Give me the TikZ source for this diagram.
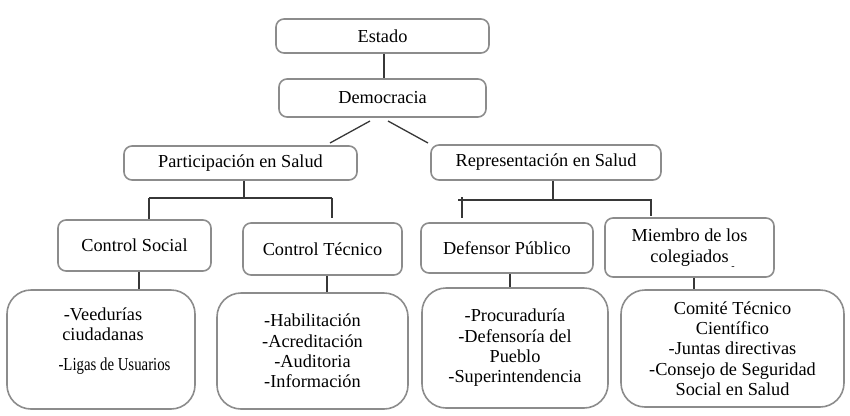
\documentclass[tikz,border=0pt]{standalone}
\usepackage{graphicx}
\usepackage{fontspec}
\setmainfont{Liberation Serif}
\definecolor{boxgray}{RGB}{140,140,140}
\definecolor{conngray}{RGB}{55,55,55}
\newcommand\diafont{\fontsize{18.3}{20.3}\selectfont}
\begin{document}
\begin{tikzpicture}[x=1pt,y=-1pt,
  box/.style={draw=boxgray, line width=1.6pt, rounded corners=8pt, inner sep=0pt, align=center, font=\diafont, text=black},
  bigbox/.style={box, rounded corners=24pt},
  txt/.style={inner sep=0pt, align=center, font=\diafont, text=black},
  conn/.style={draw=conngray, line width=1.3pt}]
\useasboundingbox (0,0) rectangle (850,415);
% top level
\node[box, minimum width=213pt, minimum height=34pt] (estado) at (382.5,36) {Estado};
\node[box, minimum width=207pt, minimum height=38pt] (demo) at (382.5,98) {Democracia};
\node[box, minimum width=233pt, minimum height=34pt] (part) at (240.5,163) {Participación en Salud};
\node[box, minimum width=230pt, minimum height=35pt] (repr) at (546,162.5) {Representación en Salud};
% second level
\node[box, minimum width=153pt, minimum height=51pt] (cs) at (134.5,245.5) {Control Social};
\node[box, minimum width=159pt, minimum height=52pt] (ct) at (322.5,249) {Control Técnico};
\node[box, minimum width=172pt, minimum height=50pt] (dp) at (507,248) {Defensor Público};
\node[box, minimum width=169pt, minimum height=59pt] (mc) at (689.5,247.5) {Miembro de los\\colegiados};
\node[inner sep=0pt, font=\fontsize{10}{10}\selectfont] (dash) at (733,268) {-};
% bottom level
\node[bigbox, minimum width=188pt, minimum height=119pt] (b1) at (101,349.5) {};
\node[txt] (b1a) at (103,324.5) {-Veedurías\\ciudadanas};
\node[txt] (b1b) at (114.5,366) {\scalebox{0.81}[1]{-Ligas de Usuarios}};
\node[bigbox, minimum width=191pt, minimum height=116pt] (b2) at (312.5,351) {-Habilitación\\-Acreditación\\-Auditoria\\-Información};
\node[bigbox, minimum width=186pt, minimum height=120pt] (b3) at (515,348) {-Procuraduría\\-Defensoría del\\Pueblo\\-Superintendencia};
\node[bigbox, minimum width=223pt, minimum height=117pt] (b4) at (732.5,348.5) {Comité Técnico\\Científico\\-Juntas directivas\\-Consejo de Seguridad\\Social en Salud};
% connectors
\draw[conn] ([xshift=1.5pt]estado.south) -- ([xshift=1.5pt]demo.north);
\coordinate (d1a) at (370,121);
\coordinate (d1b) at (330,143);
\coordinate (d2a) at (388,121);
\coordinate (d2b) at (428,143);
\draw[conn] (d1a) -- (d1b);
\draw[conn] (d2a) -- (d2b);
% participacion tree
\coordinate (pj) at (244,198);
\coordinate (pl) at (149,198);
\coordinate (pr) at (332,198);
\coordinate (prend) at (332,218);
\draw[conn] (part.south -| pj) -- (pj);
\draw[conn] (pl) -- (pr);
\draw[conn] (pl) -- (cs.north -| pl);
\draw[conn] (pr) -- (prend);
% representacion tree
\coordinate (rj) at (553,200);
\coordinate (rl0) at (458,200);
\coordinate (rr) at (651,200);
\coordinate (rltop) at (462,197);
\coordinate (rlend) at (462,218);
\coordinate (rrtop) at (651,199);
\coordinate (rrend) at (651,216);
\draw[conn] (repr.south -| rj) -- (rj);
\draw[conn] (rl0) -- (rr);
\draw[conn] (rltop) -- (rlend);
\draw[conn] (rrtop) -- (rrend);
% down to bottom boxes
\draw[conn] ([xshift=4.5pt]cs.south) -- ([xshift=4.5pt]cs.south |- b1.north);
\draw[conn] ([xshift=4.5pt]ct.south) -- ([xshift=4.5pt]ct.south |- b2.north);
\draw[conn] ([xshift=3pt]dp.south) -- ([xshift=3pt]dp.south |- b3.north);
\draw[conn] ([xshift=4.5pt]mc.south) -- ([xshift=4.5pt]mc.south |- b4.north);
\end{tikzpicture}
\end{document}
